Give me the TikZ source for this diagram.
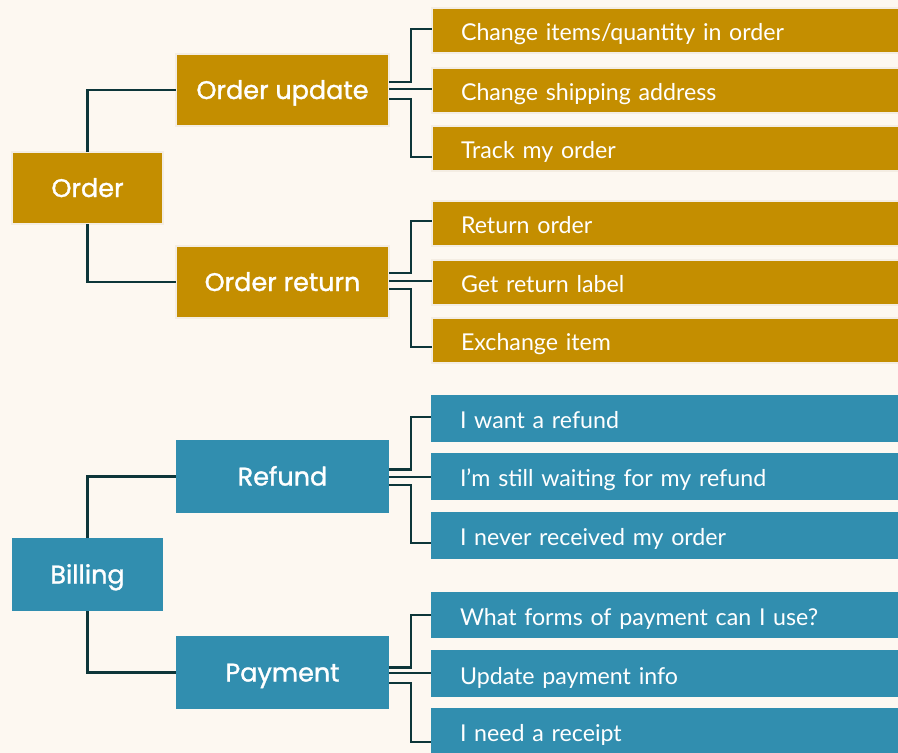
\documentclass[tikz,border=0pt]{standalone}
\usepackage{fontspec}
\setmainfont{Lato}
\newfontfamily\headfont[FakeBold=1.3]{Poppins}
\usetikzlibrary{calc}
\definecolor{pagebg}{HTML}{FDF8F1}
\definecolor{gold}{HTML}{C48E00}
\definecolor{teal}{HTML}{318EAF}
\definecolor{rim}{HTML}{F4EDE3}
\definecolor{wire}{HTML}{0D3639}
\begin{document}
\begin{tikzpicture}[x=1pt,y=-1pt,
  box/.style={rectangle, outer sep=0pt, text=white},
  headtext/.style={font=\headfont\fontsize{25.5}{25.5}\selectfont,
    text height=18pt, text depth=0pt},
  topic/.style={box, headtext, minimum width=151pt, minimum height=72pt},
  subtopic/.style={box, headtext, minimum width=213pt, minimum height=72pt},
  item/.style={box, anchor=west, minimum height=45pt, inner xsep=29pt,
    text width=412pt, align=left, font=\fontsize{23.2}{23.2}\selectfont,
    text height=21pt, text depth=0pt},
  goldbox/.style={fill=gold, draw=rim, line width=2pt},
  bluebox/.style={fill=teal},
  wires/.style={draw=wire, line width=2.3pt}]
\fill[pagebg] (0,0) rectangle (898,753);
\useasboundingbox (0,0) rectangle (898,753);

% ---------- Order branch ----------
\node[topic, goldbox] (order) at (87.5,188) {Order};
\node[subtopic, goldbox] (oupd) at (282.5,90) {Order update};
\node[subtopic, goldbox] (oret) at (282.5,282) {Order return};

\node[item, goldbox] (u1) at (432,30) {Change items/quantity in order};
\node[item, goldbox] (u2) at (432,90) {Change shipping address};
\node[item, goldbox] (u3) at (432,148) {Track my order};

\node[item, goldbox] (r1) at (432,223) {Return order};
\node[item, goldbox] (r2) at (432,282) {Get return label};
\node[item, goldbox] (r3) at (432,340) {Exchange item};

% ---------- Billing branch ----------
\node[topic, bluebox, minimum height=73pt] (bill) at (87.5,574.5) {Billing};
\node[subtopic, bluebox, minimum height=73pt] (refund) at (282.5,476.5) {Refund};
\node[subtopic, bluebox, minimum height=73pt] (pay) at (282.5,672.5) {Payment};

\node[item, bluebox, minimum height=47pt] (f1) at (431,418) {I want a refund};
\node[item, bluebox, minimum height=47pt] (f2) at (431,476) {I’m still waiting for my refund};
\node[item, bluebox, minimum height=47pt] (f3) at (431,535) {I never received my order};

\node[item, bluebox, minimum height=46pt] (p1) at (431,614.5) {What forms of payment can I use?};
\node[item, bluebox, minimum height=47pt] (p2) at (431,673.5) {Update payment info};
\node[item, bluebox, minimum height=46pt] (p3) at (431,731) {I need a receipt};

% ---------- connectors ----------
\begin{scope}[wires]
  \draw (order.north) |- (oupd.west);
  \draw (order.south) |- (oret.west);
  \draw (bill.north) |- (refund.west);
  \draw (bill.south) |- (pay.west);

  \draw ($(oupd.east)+(0,-8)$) -- ++(22,0) |- ($(u1.west)+(0,-1)$);
  \draw ($(oupd.east)+(0,-1)$) -- ($(u2.west)+(0,-1)$);
  \draw ($(oupd.east)+(0,9)$) -- ++(22,0) |- ($(u3.west)+(0,9)$);

  \draw ($(oret.east)+(0,-9)$) -- ++(22,0) |- ($(r1.west)+(0,-2)$);
  \draw ($(oret.east)+(0,-1)$) -- ($(r2.west)+(0,-1)$);
  \draw ($(oret.east)+(0,7)$) -- ++(22,0) |- ($(r3.west)+(0,7)$);

  \draw ($(refund.east)+(0,-7)$) -- ++(22,0) |- ($(f1.west)+(0,-1)$);
  \draw ($(refund.east)+(0,0.5)$) -- ($(f2.west)+(0,1)$);
  \draw ($(refund.east)+(0,8.5)$) -- ++(22,0) |- ($(f3.west)+(0,8)$);

  \draw ($(pay.east)+(0,-5)$) -- ++(22,0) |- ($(p1.west)+(0,0.5)$);
  \draw ($(pay.east)+(0,0.5)$) -- ($(p2.west)+(0,-0.5)$);
  \draw ($(pay.east)+(0,10.5)$) -- ++(22,0) |- ($(p3.west)+(0,11)$);
\end{scope}
\end{tikzpicture}
\end{document}
